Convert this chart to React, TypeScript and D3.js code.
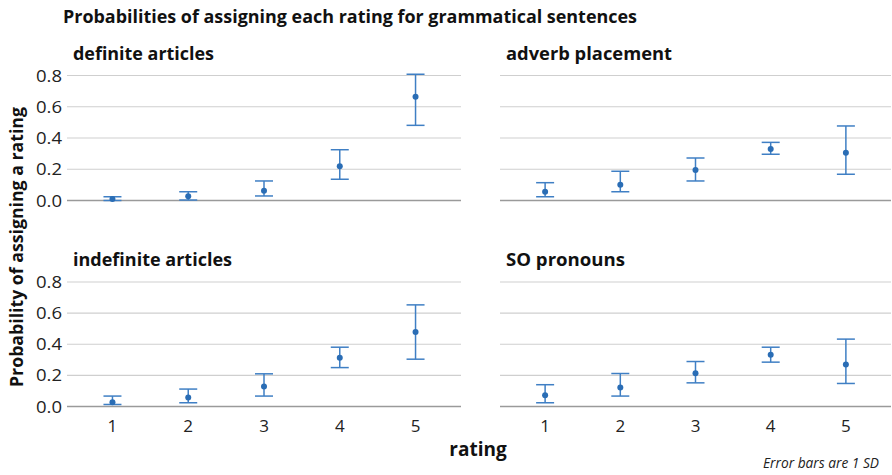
import React from "react";
import * as d3 from "d3";

const ratings = [1, 2, 3, 4, 5];
const yTicks = [0, 0.2, 0.4, 0.6, 0.8];

const panelNames = ["definite articles", "adverb placement", "indefinite articles", "SO pronouns"];

const definiteMean = [0.01, 0.027, 0.063, 0.219, 0.664];
const definiteLow = [0.0, 0.003, 0.029, 0.136, 0.481];
const definiteHigh = [0.024, 0.056, 0.125, 0.325, 0.808];

const adverbMean = [0.056, 0.101, 0.195, 0.33, 0.306];
const adverbLow = [0.024, 0.056, 0.125, 0.296, 0.168];
const adverbHigh = [0.114, 0.187, 0.272, 0.372, 0.477];

const indefiniteMean = [0.028, 0.058, 0.128, 0.313, 0.479];
const indefiniteLow = [0.013, 0.024, 0.067, 0.25, 0.304];
const indefiniteHigh = [0.067, 0.112, 0.21, 0.381, 0.653];

const soMean = [0.073, 0.122, 0.214, 0.332, 0.27];
const soLow = [0.024, 0.067, 0.152, 0.285, 0.148];
const soHigh = [0.14, 0.212, 0.289, 0.381, 0.433];

const means = [definiteMean, adverbMean, indefiniteMean, soMean];
const lows = [definiteLow, adverbLow, indefiniteLow, soLow];
const highs = [definiteHigh, adverbHigh, indefiniteHigh, soHigh];

const FONT = "'Open Sans', 'DejaVu Sans', sans-serif";
const titleWidths = [141, 166, 159, 119];

const cols = [
  { x0: 67, x1: 461 },
  { x0: 500, x1: 891 },
];
const rows = [
  { y0: 200.5, y1: 75.5 },
  { y0: 406.5, y1: 282 },
];

function Panel({ idx }: { idx: number }) {
  const col = cols[idx % 2];
  const row = rows[Math.floor(idx / 2)];
  const x = d3.scalePoint<number>().domain(ratings).range([col.x0, col.x1]).padding(0.6);
  const y = d3.scaleLinear().domain([0, 0.8]).range([row.y0, row.y1]);
  const isLeft = idx % 2 === 0;
  const isBottom = idx >= 2;
  const cap = 9;
  return (
    <g>
      <text
        x={col.x0 + 6}
        y={row.y1 - 16}
        fontFamily={FONT}
        fontWeight="bold"
        fontSize={18}
        textLength={titleWidths[idx]}
        lengthAdjust="spacingAndGlyphs"
        fill="#111"
      >
        {panelNames[idx]}
      </text>
      {yTicks.map((t) => (
        <line
          key={t}
          x1={col.x0}
          x2={col.x1}
          y1={y(t)}
          y2={y(t)}
          stroke={t === 0 ? "#9a9a9a" : "#cfcfcf"}
          strokeWidth={t === 0 ? 1.6 : 1.2}
        />
      ))}
      {isLeft &&
        yTicks.map((t) => (
          <text
            key={t}
            x={62}
            y={y(t)}
            dy="0.36em"
            textAnchor="end"
            fontFamily={FONT}
            fontSize={17}
            textLength={26}
            lengthAdjust="spacingAndGlyphs"
            fill="#222"
          >
            {d3.format(".1f")(t)}
          </text>
        ))}
      {isBottom &&
        ratings.map((r) => (
          <text
            key={r}
            x={x(r)}
            y={432}
            textAnchor="middle"
            fontFamily={FONT}
            fontSize={17}
            fill="#222"
          >
            {r}
          </text>
        ))}
      {ratings.map((r, i) => {
        const cx = x(r) as number;
        const lo = y(lows[idx][i]);
        const hi = y(highs[idx][i]);
        return (
          <g key={r} stroke="#3f7fc4" strokeWidth={1.5}>
            <line x1={cx} x2={cx} y1={lo} y2={hi} />
            <line x1={cx - cap} x2={cx + cap} y1={lo} y2={lo} />
            <line x1={cx - cap} x2={cx + cap} y1={hi} y2={hi} />
            <circle cx={cx} cy={y(means[idx][i])} r={3} fill="#2a6db5" stroke="none" />
          </g>
        );
      })}
    </g>
  );
}

export default function App() {
  return (
    <svg width={892} height={475} style={{ position: "absolute", left: 0, top: 0 }}>
      <rect width={892} height={475} fill="#fff" />
      <text
        x={63}
        y={23}
        fontFamily={FONT}
        fontWeight="bold"
        fontSize={17}
        textLength={574}
        lengthAdjust="spacingAndGlyphs"
        fill="#111"
      >
        Probabilities of assigning each rating for grammatical sentences
      </text>
      {[0, 1, 2, 3].map((i) => (
        <Panel key={i} idx={i} />
      ))}
      <text
        transform="translate(23,247) rotate(-90)"
        textAnchor="middle"
        fontFamily={FONT}
        fontWeight="bold"
        fontSize={18}
        textLength={280}
        lengthAdjust="spacingAndGlyphs"
        fill="#111"
      >
        Probability of assigning a rating
      </text>
      <text
        x={478}
        y={456}
        textAnchor="middle"
        fontFamily={FONT}
        fontWeight="bold"
        fontSize={19}
        fill="#111"
      >
        rating
      </text>
      <text
        x={879}
        y={468}
        textAnchor="end"
        fontFamily={FONT}
        fontStyle="italic"
        fontSize={14}
        textLength={116}
        lengthAdjust="spacingAndGlyphs"
        fill="#222"
      >
        Error bars are 1 SD
      </text>
    </svg>
  );
}
